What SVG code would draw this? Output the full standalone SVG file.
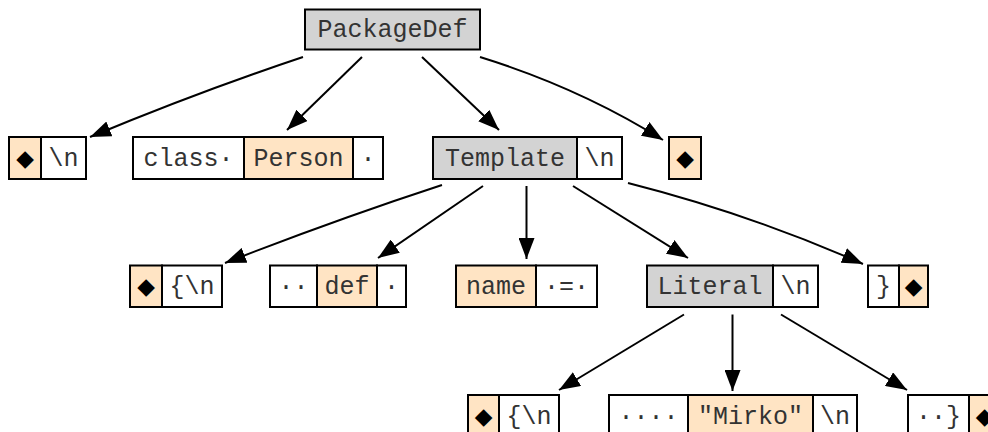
<svg xmlns="http://www.w3.org/2000/svg" width="988" height="432" viewBox="0 0 988 432">
  <style>
    .c rect { stroke: #000; stroke-width: 2; }
    .g { fill: #d3d3d3; }
    .p { fill: #ffe4c4; }
    .w { fill: #ffffff; }
    .t { font-family: "Liberation Mono", "DejaVu Sans Mono", monospace; font-size: 25px; fill: #333; text-anchor: middle; }
    .d { font-family: "DejaVu Sans", sans-serif; font-size: 23px; fill: #000; text-anchor: middle; }
    .e path { fill: none; stroke: #000; stroke-width: 2; marker-end: url(#ah); }
  </style>
  <defs>
    <marker id="ah" markerUnits="userSpaceOnUse" viewBox="0 0 21 16" markerWidth="21" markerHeight="16" refX="21" refY="8" orient="auto">
      <path d="M0,0 L21,8 L0,16 z" fill="#000"/>
    </marker>
  </defs>
  <rect width="988" height="432" fill="#fff"/>

  <!-- connectors -->
  <g id="edges" class="e">
    <path d="M303,57 Q198,92 90,137"/>
    <path d="M362,57 L287,130"/>
    <path d="M422,57 L499,130"/>
    <path d="M480,57 Q580,88 663,140"/>
    <path d="M442,185 Q335,220 225,263"/>
    <path d="M483,186 L378,258"/>
    <path d="M526.5,186 L526.5,259"/>
    <path d="M573,186 L688,258"/>
    <path d="M628,183 Q750,214 863,264"/>
    <path d="M684,314.5 L559,390"/>
    <path d="M732.5,314.5 L732.5,391"/>
    <path d="M781,314.5 L907,390"/>
  </g>

  <!-- level 0 -->
  <g id="packagedef" class="c">
    <rect class="g" x="305" y="9.5" width="175" height="40"/>
    <text class="t" x="392.5" y="37">PackageDef</text>
  </g>

  <!-- level 1 -->
  <g id="n_nl1" class="c">
    <rect class="p" x="9" y="137" width="32" height="42"/>
    <rect class="w" x="41" y="137" width="45" height="42"/>
    <text class="d" x="25" y="166">◆</text>
    <text class="t" x="63.5" y="165.5">\n</text>
  </g>
  <g id="n_class" class="c">
    <rect class="w" x="133" y="137" width="111" height="42"/>
    <rect class="p" x="244" y="137" width="109" height="42"/>
    <rect class="w" x="353" y="137" width="30" height="42"/>
    <text class="t" x="188.5" y="165.5">class·</text>
    <text class="t" x="298.5" y="165.5">Person</text>
    <text class="t" x="368" y="165.5">·</text>
  </g>
  <g id="n_template" class="c">
    <rect class="g" x="433" y="137" width="144" height="42"/>
    <rect class="w" x="577" y="137" width="45" height="42"/>
    <text class="t" x="505" y="165.5">Template</text>
    <text class="t" x="599.5" y="165.5">\n</text>
  </g>
  <g id="n_eof1" class="c">
    <rect class="p" x="669" y="137" width="32" height="42"/>
    <text class="d" x="685" y="166">◆</text>
  </g>

  <!-- level 2 -->
  <g id="n_open" class="c">
    <rect class="p" x="130" y="265.5" width="32" height="41.5"/>
    <rect class="w" x="162" y="265.5" width="60" height="41.5"/>
    <text class="d" x="146" y="294">◆</text>
    <text class="t" x="192" y="294">{\n</text>
  </g>
  <g id="n_def" class="c">
    <rect class="w" x="270" y="265.5" width="47" height="41.5"/>
    <rect class="p" x="317" y="265.5" width="60" height="41.5"/>
    <rect class="w" x="377" y="265.5" width="29" height="41.5"/>
    <text class="t" x="293.5" y="294">··</text>
    <text class="t" x="347" y="294">def</text>
    <text class="t" x="391.5" y="294">·</text>
  </g>
  <g id="n_name" class="c">
    <rect class="p" x="456" y="265.5" width="80" height="41.5"/>
    <rect class="w" x="536" y="265.5" width="61" height="41.5"/>
    <text class="t" x="496" y="294">name</text>
    <text class="t" x="566.5" y="294">·=·</text>
  </g>
  <g id="n_literal" class="c">
    <rect class="g" x="647" y="265.5" width="126" height="41.5"/>
    <rect class="w" x="773" y="265.5" width="45" height="41.5"/>
    <text class="t" x="710" y="294">Literal</text>
    <text class="t" x="795.5" y="294">\n</text>
  </g>
  <g id="n_close" class="c">
    <rect class="w" x="868" y="265.5" width="31" height="41.5"/>
    <rect class="p" x="899" y="265.5" width="29" height="41.5"/>
    <text class="t" x="883.5" y="294">}</text>
    <text class="d" x="913.5" y="294">◆</text>
  </g>

  <!-- level 3 -->
  <g id="n_lit_open" class="c">
    <rect class="p" x="468" y="395" width="31" height="42"/>
    <rect class="w" x="499" y="395" width="60" height="42"/>
    <text class="d" x="483.5" y="424">◆</text>
    <text class="t" x="529" y="423.5">{\n</text>
  </g>
  <g id="n_mirko" class="c">
    <rect class="w" x="609" y="395" width="79" height="42"/>
    <rect class="p" x="688" y="395" width="125" height="42"/>
    <rect class="w" x="813" y="395" width="44" height="42"/>
    <text class="t" x="648.5" y="423.5">····</text>
    <text class="t" x="750.5" y="423.5">"Mirko"</text>
    <text class="t" x="835" y="423.5">\n</text>
  </g>
  <g id="n_lit_close" class="c">
    <rect class="w" x="908" y="395" width="61" height="42"/>
    <rect class="p" x="969" y="395" width="31" height="42"/>
    <text class="t" x="938.5" y="423.5">··}</text>
    <text class="d" x="984.5" y="424">◆</text>
  </g>
</svg>
